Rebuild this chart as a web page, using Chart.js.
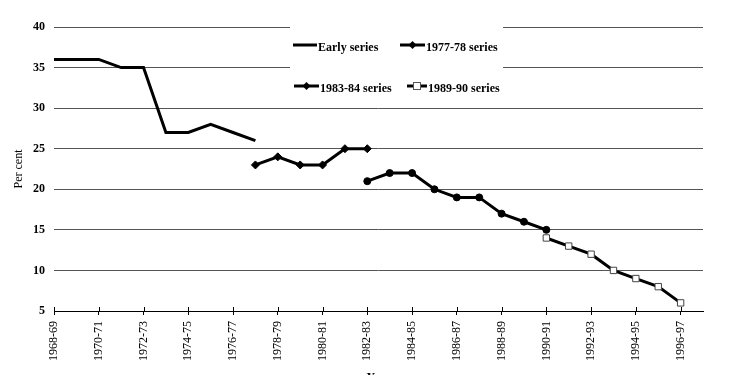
<!DOCTYPE html>
<html>
<head>
<meta charset="utf-8">
<script src="https://cdn.jsdelivr.net/npm/chart.js@4/dist/chart.umd.min.js"></script>
<style>
  html, body { margin: 0; padding: 0; background: #fff; }
  #wrap { width: 750px; height: 375px; }
</style>
</head>
<body>
<div id="wrap"><canvas id="chart" width="750" height="375"></canvas></div>
<script>
// Financial years on the x axis (labels shown every second year)
const years = [
  "1968-69", "1969-70", "1970-71", "1971-72", "1972-73", "1973-74",
  "1974-75", "1975-76", "1976-77", "1977-78", "1978-79", "1979-80",
  "1980-81", "1981-82", "1982-83", "1983-84", "1984-85", "1985-86",
  "1986-87", "1987-88", "1988-89", "1989-90", "1990-91", "1991-92",
  "1992-93", "1993-94", "1994-95", "1995-96", "1996-97", "1997-98",
];

// Per cent values, one array per series (null = not in that series)
const earlySeries = [36, 36, 36, 35, 35, 27, 27, 28, 27, 26,
  null, null, null, null, null, null, null, null, null, null,
  null, null, null, null, null, null, null, null, null, null];
const series7778 = [null, null, null, null, null, null, null, null, null,
  23, 24, 23, 23, 25, 25,
  null, null, null, null, null, null, null, null, null, null, null, null, null, null, null];
const series8384 = [null, null, null, null, null, null, null, null, null, null, null, null, null, null,
  21, 22, 22, 20, 19, 19, 17, 16, 15,
  null, null, null, null, null, null, null];
const series8990 = [null, null, null, null, null, null, null, null, null, null, null,
  null, null, null, null, null, null, null, null, null, null, null,
  14, 13, 12, 10, 9, 8, 6, null];

const yTicks = [5, 10, 15, 20, 25, 30, 35, 40];

const serif = "'Liberation Serif', 'DejaVu Serif', serif";

// legend drawn inside the plot on a white box, plus tick marks above the x axis
const legendBox = {
  id: "legendBox",
  afterDatasetsDraw(chart) {
    const ctx = chart.ctx;
    const area = chart.chartArea;
    const x = chart.scales.x;
    ctx.save();

    // small tick marks above the axis line
    ctx.strokeStyle = "#000";
    ctx.lineWidth = 1;
    x.ticks.forEach((t, i) => {
      if (t.label == null || t.label === "") return;
      const px = Math.round(x.getPixelForTick(i)) + 0.5;
      ctx.beginPath();
      ctx.moveTo(px, area.bottom - 4);
      ctx.lineTo(px, area.bottom);
      ctx.stroke();
    });

    const bx = area.left + 236;
    const by = area.top - 1;
    ctx.fillStyle = "#fff";
    ctx.fillRect(bx, by, 213, 75);

    const items = [
      { text: "Early series", ds: 0, x: bx + 3, y: by + 19, w: 24 },
      { text: "1977-78 series", ds: 1, x: bx + 110, y: by + 19, w: 25 },
      { text: "1983-84 series", ds: 2, x: bx + 4, y: by + 60, w: 25 },
      { text: "1989-90 series", ds: 3, x: bx + 117, y: by + 60, w: 20 },
    ];
    ctx.font = "bold 12px " + serif;
    ctx.textBaseline = "middle";
    items.forEach((it) => {
      const d = chart.data.datasets[it.ds];
      ctx.strokeStyle = "#000";
      ctx.lineWidth = 3;
      ctx.beginPath();
      ctx.moveTo(it.x, it.y);
      ctx.lineTo(it.x + it.w, it.y);
      ctx.stroke();
      const cx = it.x + it.w / 2;
      ctx.lineWidth = 1;
      if (d.pointStyle === "rectRot" || d.pointStyle === "circle") {
        ctx.fillStyle = "#000";
        ctx.beginPath();
        ctx.moveTo(cx, it.y - 4);
        ctx.lineTo(cx + 4, it.y);
        ctx.lineTo(cx, it.y + 4);
        ctx.lineTo(cx - 4, it.y);
        ctx.closePath();
        ctx.fill();
      } else if (d.pointStyle === "rect") {
        ctx.fillStyle = "#fff";
        ctx.fillRect(cx - 4, it.y - 4, 8, 8);
        ctx.strokeStyle = "#555";
        ctx.strokeRect(cx - 3.5, it.y - 3.5, 7, 7);
      }
      ctx.fillStyle = "#000";
      ctx.textAlign = "left";
      ctx.fillText(it.text, it.x + it.w + 1, it.y + 3);
    });
    ctx.restore();
  },
};

function lineSet(label, data, style, radius, fill, border) {
  return {
    label: label,
    data: data,
    borderColor: "#000",
    borderWidth: 3,
    pointStyle: style,
    pointRadius: radius,
    pointBackgroundColor: fill,
    pointBorderColor: border,
    pointBorderWidth: 1,
    tension: 0,
    spanGaps: false,
  };
}

new Chart(document.getElementById("chart"), {
  type: "line",
  data: {
    labels: years,
    datasets: [
      lineSet("Early series", earlySeries, false, 0, "#000", "#000"),
      lineSet("1977-78 series", series7778, "rectRot", 4, "#000", "#000"),
      lineSet("1983-84 series", series8384, "circle", 3.5, "#000", "#000"),
      lineSet("1989-90 series", series8990, "rect", 4.5, "#fff", "#444"),
    ],
  },
  options: {
    responsive: false,
    animation: false,
    layout: { padding: { top: 27, right: 47, left: 0, bottom: 0 } },
    plugins: { legend: { display: false }, tooltip: { enabled: false } },
    scales: {
      x: {
        offset: false,
        grid: { drawOnChartArea: false, drawTicks: true, tickLength: 4, color: "#000" },
        border: { display: true, color: "#000", width: 1 },
        ticks: {
          autoSkip: false,
          maxRotation: 90,
          minRotation: 90,
          padding: 6,
          color: "#000",
          font: { family: serif, size: 12 },
          callback: function (v, i) {
            return i % 2 === 0 ? years[i] : null;
          },
        },
        title: {
          display: true,
          text: "Year",
          color: "#000",
          font: { family: serif, size: 12, weight: "bold" },
          padding: { top: 4, bottom: -10 },
        },
        afterFit: function (scale) { scale.height = 64; },
      },
      y: {
        min: 5,
        max: 40,
        afterBuildTicks: function (scale) {
          scale.ticks = yTicks.map((v) => ({ value: v }));
        },
        grid: { color: "#555", drawTicks: false, lineWidth: 1 },
        border: { display: false },
        ticks: {
          padding: 9,
          color: "#000",
          font: { family: serif, size: 12, weight: "bold" },
        },
        title: {
          display: true,
          text: "Per cent",
          color: "#000",
          font: { family: serif, size: 12 },
          padding: { top: 12, bottom: 0 },
        },
        afterFit: function (scale) { scale.width = 54; },
      },
    },
  },
  plugins: [legendBox],
});
</script>
</body>
</html>
